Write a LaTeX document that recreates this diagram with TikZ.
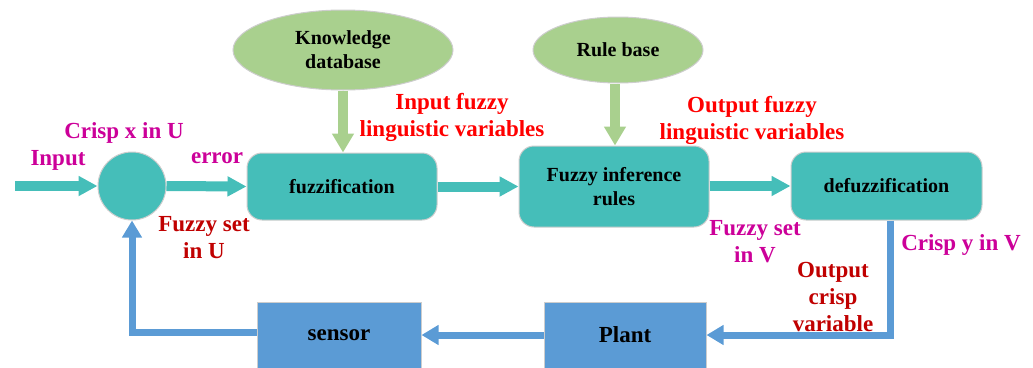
\documentclass[tikz,border=0pt]{standalone}
\usepackage{fontspec}
\setmainfont{Liberation Serif}
\usetikzlibrary{arrows.meta,shapes.geometric,calc}
\definecolor{teal1}{RGB}{69,190,185}
\definecolor{green1}{RGB}{169,208,142}
\definecolor{blue1}{RGB}{91,155,213}
\definecolor{mag}{RGB}{204,0,153}
\definecolor{red1}{RGB}{255,0,0}
\definecolor{dred}{RGB}{192,0,0}
\definecolor{edge}{RGB}{205,205,205}
\tikzset{
  tbox/.style={draw=edge,line width=1pt,fill=teal1,rounded corners=15pt,align=center,
    font=\fontsize{20}{24}\selectfont\bfseries},
  bbox/.style={draw=edge,line width=1pt,fill=blue1,align=center,
    font=\fontsize{23}{27}\selectfont\bfseries},
  gell/.style={ellipse,draw=edge,line width=1pt,fill=green1,align=center,
    font=\fontsize{20}{24}\selectfont\bfseries},
  tarrow/.style={teal1,line width=10pt,-{Triangle[length=19pt,width=19pt]}},
  garrow/.style={green1,line width=10pt,-{Triangle[length=19pt,width=21pt]}},
  barrow/.style={blue1,line width=7pt,-{Triangle[length=17pt,width=19pt]}},
  lbl/.style={align=center,font=\fontsize{23}{27}\selectfont\bfseries,inner sep=0pt},
}
\begin{document}
\begin{tikzpicture}[x=1pt,y=-1pt]
\useasboundingbox (0,0) rectangle (1033,367);
% nodes
\node[circle,draw=edge,line width=1pt,fill=teal1,minimum size=68pt,inner sep=0pt] (circ) at (132,186) {};
\node[tbox,minimum width=190pt,minimum height=67pt] (fuzz) at (342,186.5) {fuzzification};
\node[tbox,minimum width=190pt,minimum height=81pt] (infer) at (614,186.5) {Fuzzy inference\\rules};
\node[tbox,minimum width=191pt,minimum height=68pt] (defuzz) at (886.5,186) {defuzzification};
\node[bbox,minimum width=162pt,minimum height=66pt] (plant) at (625,335) {Plant};
\node[bbox,minimum width=164pt,minimum height=66pt] (sensor) at (339,335) {sensor};
\node[gell,minimum width=220pt,minimum height=80pt,inner sep=0pt] (know) at (343,50) {Knowledge\\database};
\node[gell,minimum width=170pt,minimum height=66pt,inner sep=0pt] (rule) at (618,50) {Rule base};
\coordinate (inp) at (15,186);
% connectors
\draw[tarrow] (inp) -- (circ.west);
\draw[tarrow] (circ.east) -- (fuzz.west);
\draw[tarrow] (fuzz.east) -- (fuzz.east -| infer.west);
\draw[tarrow] (infer.east |- defuzz.west) -- (defuzz.west);
\draw[garrow] (know.south) -- (know.south |- fuzz.north);
\draw[garrow] ([xshift=-3pt]rule.south) -- ([xshift=-3pt]rule.south |- infer.north);
\draw[barrow] ([xshift=3.5pt]defuzz.south) |- (plant.east);
\draw[barrow] (plant.west) -- (sensor.east);
\draw[barrow] ([yshift=3pt]sensor.west) -| (circ.south);
% labels
\node[lbl,text=mag] (l1) at (124,133) {Crisp x in U};
\node[lbl,text=mag] (l2) at (58,160) {Input};
\node[lbl,text=mag] (l3) at (217,158) {error};
\node[lbl,text=dred] (l4) at (204,238) {Fuzzy set\\in U};
\node[lbl,text=red1] (l5) at (452,117) {Input fuzzy\\linguistic variables};
\node[lbl,text=red1] (l6) at (752,120) {Output fuzzy\\linguistic variables};
\node[lbl,text=mag] (l7) at (755,242) {Fuzzy set\\in V};
\node[lbl,text=mag] (l8) at (961,245) {Crisp y in V};
\node[lbl,text=dred] (l9) at (833,297) {Output\\crisp\\variable};
\end{tikzpicture}
\end{document}
